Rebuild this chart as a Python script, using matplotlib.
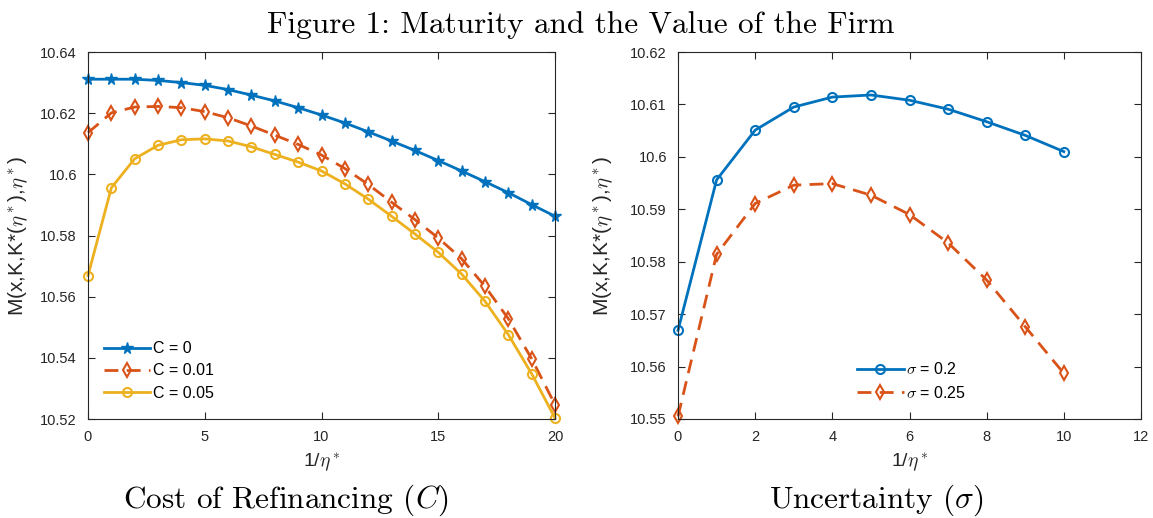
import numpy as np
import matplotlib
matplotlib.use('Agg')
import matplotlib.pyplot as plt

plt.rcParams['font.family'] = ['Liberation Sans', 'DejaVu Sans']
plt.rcParams['mathtext.fontset'] = 'cm'

# left panel: cost of refinancing
x_left = list(range(21))
m_c0 = [10.6311, 10.6311, 10.6311, 10.6307, 10.6300, 10.6291, 10.6277, 10.6259, 10.6240, 10.6218,
        10.6194, 10.6168, 10.6139, 10.6109, 10.6078, 10.6045, 10.6011, 10.5976, 10.5940, 10.5901, 10.5863]
m_c001 = [10.6136, 10.6201, 10.6220, 10.6222, 10.6218, 10.6205, 10.6185, 10.6158, 10.6128, 10.6098,
          10.6063, 10.6019, 10.5967, 10.5909, 10.5852, 10.5792, 10.5724, 10.5634, 10.5528, 10.5397, 10.5247]
m_c005 = [10.5669, 10.5956, 10.6051, 10.6095, 10.6113, 10.6116, 10.6109, 10.6090, 10.6065, 10.6040,
          10.6011, 10.5969, 10.5919, 10.5863, 10.5805, 10.5745, 10.5674, 10.5585, 10.5476, 10.5348, 10.5203]

# right panel: uncertainty
x_right = list(range(11))
m_s020 = [10.5669, 10.5956, 10.6051, 10.6095, 10.6114, 10.6118, 10.6108, 10.6091, 10.6067, 10.6041, 10.6010]
m_s025 = [10.5505, 10.5814, 10.5911, 10.5946, 10.5949, 10.5927, 10.5890, 10.5836, 10.5765, 10.5676, 10.5587]

left_yticks = [10.52, 10.54, 10.56, 10.58, 10.6, 10.62, 10.64]
right_yticks = [10.55, 10.56, 10.57, 10.58, 10.59, 10.6, 10.61, 10.62]

blue = '#0072BD'
red = '#D95319'
yellow = '#EDB120'
axcol = '#262626'

ylab = r'M(x,K,K*($\eta^*$),$\eta^*$)'
xlab = r'1/$\eta^*$'
dash = (0, (5, 3))

fig = plt.figure(figsize=(11.53, 5.18), dpi=100)
ax1 = fig.add_axes([88 / 1153, 99 / 518, 467 / 1153, 367 / 518])
ax2 = fig.add_axes([678 / 1153, 99 / 518, 463 / 1153, 367 / 518])

ax1.plot(x_left, m_c0, '-', color=blue, lw=2, marker='*', ms=8.5, label='C = 0', clip_on=False)
ax1.plot(x_left, m_c001, linestyle=dash, color=red, lw=2, marker='d', ms=7, mfc='none', mew=1.5,
         label='C = 0.01', clip_on=False)
ax1.plot(x_left, m_c005, '-', color=yellow, lw=2, marker='o', ms=6.5, mfc='none', mew=1.5,
         label='C = 0.05', clip_on=False)
ax1.set_xlim(0, 20)
ax1.set_ylim(10.52, 10.64)
ax1.set_xticks([0, 5, 10, 15, 20])
ax1.set_yticks(left_yticks)
ax1.set_yticklabels(['%g' % v for v in left_yticks])

ax2.plot(x_right, m_s020, '-', color=blue, lw=2, marker='o', ms=6.5, mfc='none', mew=1.5,
         label=r'$\sigma$ = 0.2', clip_on=False)
ax2.plot(x_right, m_s025, linestyle=dash, color=red, lw=2, marker='d', ms=7, mfc='none', mew=1.5,
         label=r'$\sigma$ = 0.25', clip_on=False)
ax2.set_xlim(0, 12)
ax2.set_ylim(10.55, 10.62)
ax2.set_xticks(range(0, 13, 2))
ax2.set_yticks(right_yticks)
ax2.set_yticklabels(['%g' % v for v in right_yticks])

for ax in (ax1, ax2):
    ax.tick_params(direction='in', top=True, right=True, labelsize=10.5, colors=axcol, length=5, pad=8)
    for s in ax.spines.values():
        s.set_color(axcol)
        s.set_linewidth(0.8)
    ax.set_ylabel(ylab, fontsize=15, color=axcol)
    ax.set_xlabel(xlab, fontsize=14, color=axcol, labelpad=5)

ax1.yaxis.set_label_coords(-0.125, 0.5)
ax2.yaxis.set_label_coords(-0.137, 0.5)

ax1.legend(loc='lower left', bbox_to_anchor=(0.034, 0.05), frameon=False, fontsize=11.5,
           borderaxespad=0, borderpad=0, handlelength=2.9, handletextpad=0.15, labelspacing=0.45)
ax2.legend(loc='lower left', bbox_to_anchor=(0.387, 0.05), frameon=False, fontsize=11.5,
           borderaxespad=0, borderpad=0, handlelength=2.9, handletextpad=0.15, labelspacing=0.45)

fig.text(0.5035, 1 - 33 / 518, 'Figure 1: Maturity and the Value of the Firm', ha='center', va='baseline',
         family='cmr10', fontsize=22.5)
fig.text(286 / 1153, 10 / 518, r'Cost of Refinancing ($C$)', ha='center', va='baseline',
         family='cmr10', fontsize=22.5)
fig.text(876 / 1153, 10 / 518, r'Uncertainty ($\sigma$)', ha='center', va='baseline',
         family='cmr10', fontsize=22.5)

fig.savefig('out.png', dpi=100)
